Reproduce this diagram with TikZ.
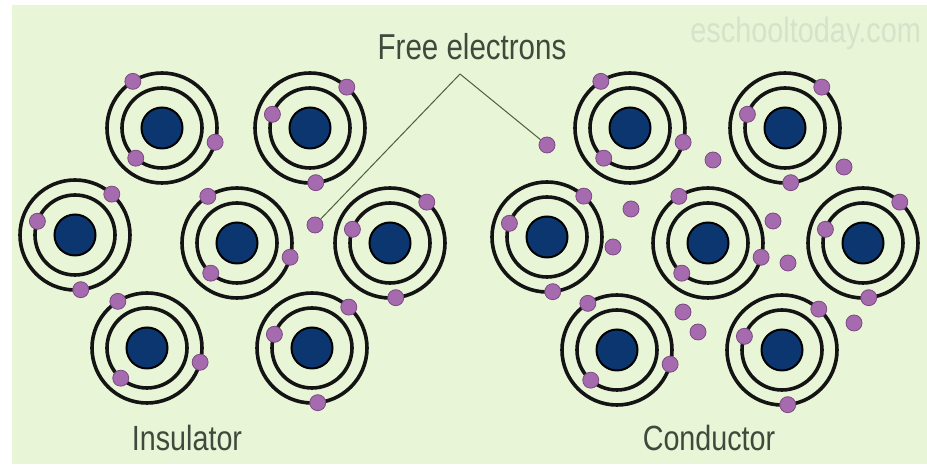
\documentclass[tikz,border=0pt]{standalone}
\usepackage{fontspec}
\newfontfamily\labelfont[FakeStretch=0.82]{Liberation Sans}

\definecolor{paper}{HTML}{E8F6D7}
\definecolor{nucleusblue}{HTML}{0B3670}
\definecolor{electronpurple}{HTML}{A66BAE}
\definecolor{electronedge}{HTML}{7A4A82}
\definecolor{orbitblack}{HTML}{141414}
\definecolor{labelgray}{HTML}{3F4A3C}
\definecolor{markgray}{HTML}{D6E2CA}
\definecolor{pointergreen}{HTML}{4F5D40}

\tikzset{
  orbit/.style = {draw = orbitblack, line width = 1.8pt},
  nucleus/.style = {circle, draw = black, line width = 1pt,
    fill = nucleusblue, minimum size = 20.5pt, inner sep = 0pt},
  electron/.style = {circle, draw = electronedge, line width = 0.4pt,
    fill = electronpurple, minimum size = 8pt, inner sep = 0pt},
  pointer/.style = {draw = pointergreen, line width = 0.5pt},
  caption/.style = {font = \labelfont\fontsize{17.5}{20}\selectfont,
    text = labelgray, anchor = base, inner sep = 0pt},
  % two shells, electrons set one way
  pics/shellsA/.style = {code = {
    \draw[orbit] (0,0) circle (40);
    \draw[orbit] (0,0) circle (55);
    \node[electron] (-e1) at (122:55) {};
    \node[electron] (-e2) at (-15:55) {};
    \node[electron] (-e3) at (229:40) {};
  }},
  % two shells, electrons set the other way
  pics/shellsB/.style = {code = {
    \draw[orbit] (0,0) circle (40);
    \draw[orbit] (0,0) circle (55);
    \node[electron] (-e1) at (48:55) {};
    \node[electron] (-e2) at (-84:55) {};
    \node[electron] (-e3) at (160:40) {};
  }}
}

\begin{document}
\begin{tikzpicture}[x = 0.5pt, y = 0.5pt]

    \useasboundingbox (0,0) rectangle (927,465);
    \fill[white] (0,0) rectangle (927,465);
    \fill[paper] (12,1) rectangle (927,460);

    \node[caption, font = \labelfont\fontsize{17.6}{20}\selectfont,
      text = markgray, anchor = base west] (mark) at (690,422) {eschooltoday.com};

    % insulator
    \node[nucleus] (i1) at (162,337) {};
    \node[nucleus] (i2) at (310,337) {};
    \node[nucleus] (i3) at (75,230) {};
    \node[nucleus] (i4) at (237,222) {};
    \node[nucleus] (i5) at (390,222) {};
    \node[nucleus] (i6) at (147,117) {};
    \node[nucleus] (i7) at (312,117) {};

    \pic (i1) at (i1) {shellsA};
    \pic (i2) at (i2) {shellsB};
    \pic (i3) at (i3) {shellsB};
    \pic (i4) at (i4) {shellsA};
    \pic (i5) at (i5) {shellsB};
    \pic (i6) at (i6) {shellsA};
    \pic (i7) at (i7) {shellsB};

    \node[electron] (fi) at (315,240) {};

    % conductor
    \node[nucleus] (c1) at (630,337) {};
    \node[nucleus] (c2) at (785,337) {};
    \node[nucleus] (c3) at (547,228) {};
    \node[nucleus] (c4) at (708,222) {};
    \node[nucleus] (c5) at (863,222) {};
    \node[nucleus] (c6) at (617,115) {};
    \node[nucleus] (c7) at (782,115) {};

    \pic (c1) at (c1) {shellsA};
    \pic (c2) at (c2) {shellsB};
    \pic (c3) at (c3) {shellsB};
    \pic (c4) at (c4) {shellsA};
    \pic (c5) at (c5) {shellsB};
    \pic (c6) at (c6) {shellsA};
    \pic (c7) at (c7) {shellsB};

    \node[electron] (f1) at (547,320) {};
    \node[electron] (f2) at (713,305) {};
    \node[electron] (f3) at (844,298) {};
    \node[electron] (f4) at (631,256) {};
    \node[electron] (f5) at (773,244) {};
    \node[electron] (f6) at (613,218) {};
    \node[electron] (f7) at (788,202) {};
    \node[electron] (f8) at (683,153) {};
    \node[electron] (f9) at (698,133) {};
    \node[electron] (f10) at (854,142) {};

    % labels
    \node[caption, font = \labelfont\fontsize{18}{20}\selectfont] (free) at (472,405) {Free electrons};
    \node[caption] (ins) at (187,14) {Insulator};
    \node[caption] (con) at (709,14) {Conductor};

    \coordinate (tip) at (460,391);
    \draw[pointer] (tip) -- (fi);
    \draw[pointer] (tip) -- (f1);
\end{tikzpicture}
\end{document}
